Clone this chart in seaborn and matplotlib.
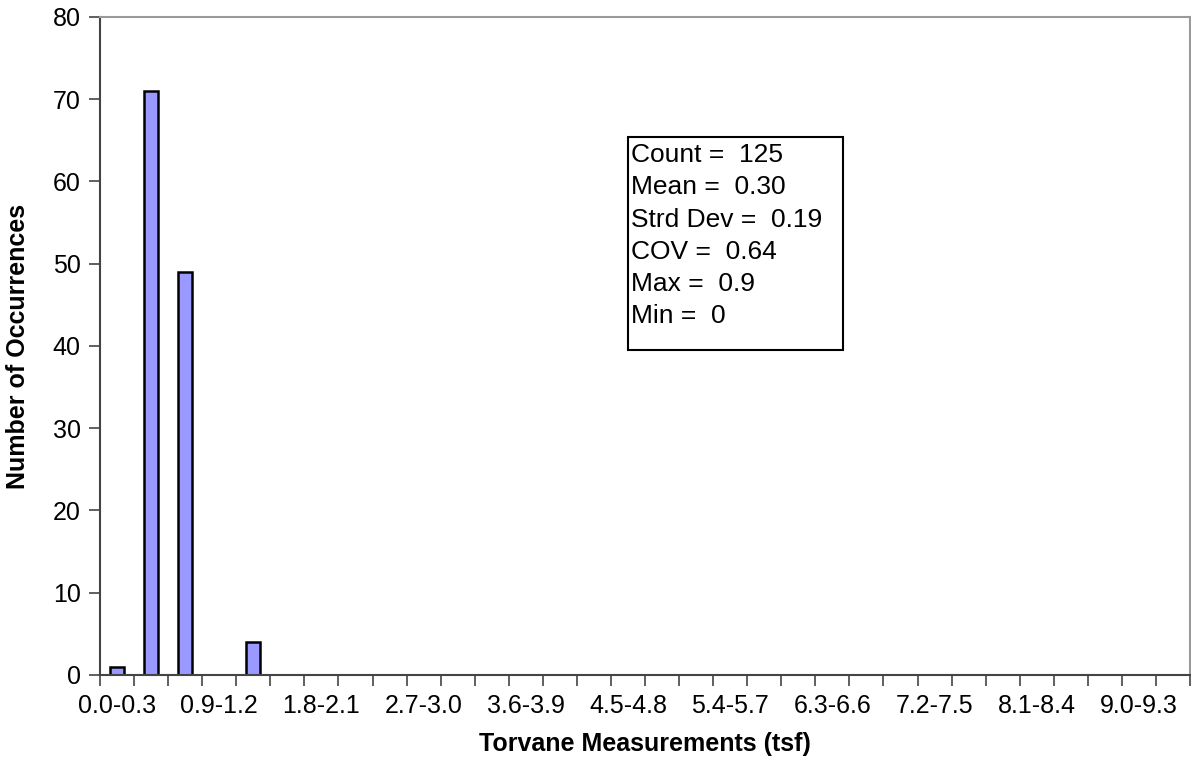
import numpy as np
import pandas as pd
import seaborn as sns
import matplotlib.pyplot as plt
from matplotlib.patches import Rectangle

# bins of 0.3 tsf, 0.0-0.3 up to 9.3-9.6
bins = ["%.1f-%.1f" % (i * 0.3, (i + 1) * 0.3) for i in range(32)]
counts = [1, 71, 49, 0, 4] + [0] * 27
stats = ["Count =  125", "Mean =  0.30", "Strd Dev =  0.19",
         "COV =  0.64", "Max =  0.9", "Min =  0"]

df = pd.DataFrame({"bin": bins, "n": counts})

sns.set_style("white")
plt.rcParams['font.family'] = ['Liberation Sans', 'DejaVu Sans']
plt.rcParams['text.color'] = 'black'
plt.rcParams['axes.labelcolor'] = 'black'
plt.rcParams['xtick.color'] = 'black'
plt.rcParams['ytick.color'] = 'black'

fig = plt.figure(figsize=(11.91, 7.78), dpi=100)
ax = fig.add_axes([0.084, 0.1324, 0.9152, 0.8458])

sns.barplot(data=df, x="bin", y="n", order=bins, color="#9999FF",
            saturation=1, width=0.42, edgecolor="black", linewidth=1.8, ax=ax)

ax.set_xlim(-0.5, len(bins) - 0.5)
ax.set_ylim(0, 80)
ax.set_yticks(range(0, 81, 10))
ax.tick_params(axis="y", left=True, labelsize=18, length=8, width=1.2,
               color="#444444", labelcolor="black", pad=6)

# ticks between categories, labels every third bin at the centres
ax.set_xticks(np.arange(len(bins) + 1) - 0.5)
ax.set_xticklabels([])
ax.tick_params(axis="x", which="major", bottom=True, length=8, width=1.2, color="#444444")
ax.set_xticks(range(0, len(bins), 3), minor=True)
ax.set_xticklabels(bins[::3], minor=True)
ax.tick_params(axis="x", which="minor", bottom=True, length=0, labelsize=18,
               labelcolor="black", pad=14)

for s in ["left", "bottom"]:
    ax.spines[s].set_color("#444444")
    ax.spines[s].set_linewidth(1.5)
for s in ["top", "right"]:
    ax.spines[s].set_color("#999999")
    ax.spines[s].set_linewidth(1.5)

ax.set_xlabel("Torvane Measurements (tsf)", fontsize=18, fontweight="bold", labelpad=10)
ax.set_ylabel("Number of Occurrences", fontsize=18, fontweight="bold", labelpad=16)

ax.add_patch(Rectangle((0.4844, 0.494), 0.1973, 0.3237, transform=ax.transAxes,
                       facecolor="white", edgecolor="black", linewidth=1.5, zorder=5))
ax.text(0.4872, 0.808, "\n".join(stats), transform=ax.transAxes, fontsize=19,
        va="top", ha="left", linespacing=1.43, zorder=6)

fig.savefig("out.png", dpi=100)
